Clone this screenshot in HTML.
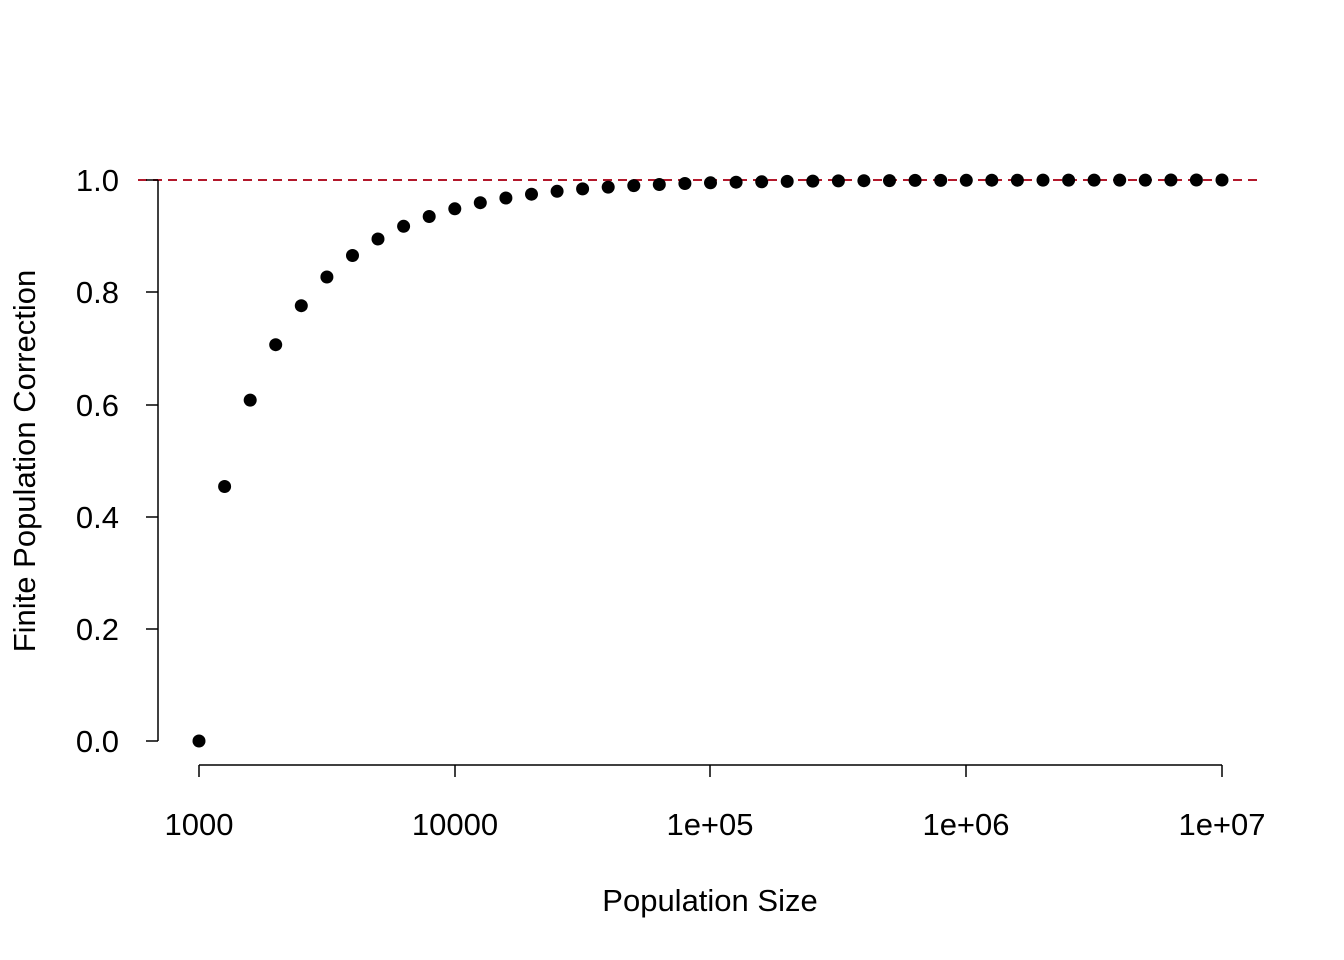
<!DOCTYPE html>
<html><head><meta charset="utf-8"><style>
html,body{margin:0;padding:0;background:#fff;}
svg{display:block;font-family:"Liberation Sans",Arial,sans-serif;}
</style></head><body>
<svg id="s" width="1344" height="960" viewBox="0 0 1344 960" xmlns="http://www.w3.org/2000/svg">
<rect width="1344" height="960" fill="#fff"/>
<line x1="138" y1="180" x2="1258" y2="180" stroke="#b2182b" stroke-width="2" stroke-dasharray="9,6"/>
<g stroke="#000" stroke-width="1.5" fill="none">
<line x1="158" y1="180" x2="158" y2="741"/>
<line x1="146" y1="741" x2="158" y2="741"/>
<line x1="146" y1="629" x2="158" y2="629"/>
<line x1="146" y1="517" x2="158" y2="517"/>
<line x1="146" y1="405" x2="158" y2="405"/>
<line x1="146" y1="292" x2="158" y2="292"/>
<line x1="146" y1="180" x2="158" y2="180"/>
<line x1="199" y1="765" x2="1222" y2="765"/>
<line x1="199" y1="765" x2="199" y2="777"/>
<line x1="455" y1="765" x2="455" y2="777"/>
<line x1="710" y1="765" x2="710" y2="777"/>
<line x1="966" y1="765" x2="966" y2="777"/>
<line x1="1222" y1="765" x2="1222" y2="777"/>
</g>
<g font-size="31" text-anchor="end" fill="#000">
<text x="119" y="752">0.0</text>
<text x="119" y="640">0.2</text>
<text x="119" y="528">0.4</text>
<text x="119" y="416">0.6</text>
<text x="119" y="303">0.8</text>
<text x="119" y="191">1.0</text>
</g>
<g font-size="31" text-anchor="middle" fill="#000">
<text x="199" y="835">1000</text>
<text x="455" y="835">10000</text>
<text x="710" y="835">1e+05</text>
<text x="966" y="835">1e+06</text>
<text x="1222" y="835">1e+07</text>
<text x="710" y="911">Population Size</text>
<text transform="translate(35,461) rotate(-90)">Finite Population Correction</text>
</g>
<g id="pts" fill="#000"></g>
</svg>
<script>
var g=document.getElementById('pts'),h='';
for(var i=0;i<=40;i++){var l=3+i*0.1,N=Math.pow(10,l),f=Math.sqrt(Math.max(0,(N-1000)/(N-1)));
var x=199+(l-3)*255.75,y=741-f*561;h+='<circle cx="'+x.toFixed(1)+'" cy="'+y.toFixed(1)+'" r="6.5"/>';}
g.innerHTML=h;
</script>
</body></html>
